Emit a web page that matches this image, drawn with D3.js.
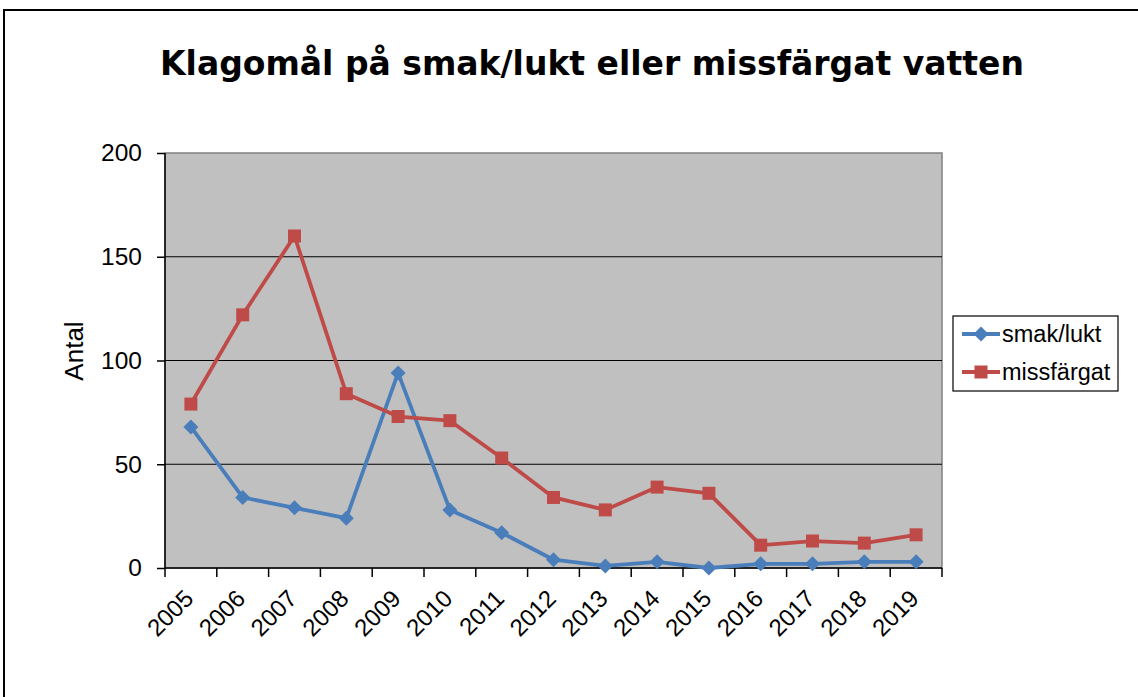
<!DOCTYPE html>
<html>
<head>
<meta charset="utf-8">
<script src="https://cdn.jsdelivr.net/npm/d3@7"></script>
<style>
  body { margin: 0; background: #fff; }
  svg { display: block; }
  .axis text { font-family: "Liberation Sans", Arial, sans-serif; font-size: 24.5px; fill: #000; }
  .axis .xl { font-size: 24px; }
  .axis path, .axis line { stroke: #000; stroke-width: 1.5; }
</style>
</head>
<body>
<div id="chart"></div>
<script>
const years = ['2005','2006','2007','2008','2009','2010','2011','2012','2013','2014','2015','2016','2017','2018','2019'];
const smakLukt = [68, 34, 29, 24, 94, 28, 17, 4, 1, 3, 0, 2, 2, 3, 3];
const missfargat = [79, 122, 160, 84, 73, 71, 53, 34, 28, 39, 36, 11, 13, 12, 16];
const yTicks = [0, 50, 100, 150, 200];

const seriesList = [
  { name: 'smak/lukt', values: smakLukt, color: '#4a7ebb', marker: 'diamond' },
  { name: 'missfärgat', values: missfargat, color: '#be4b48', marker: 'square' }
];

const width = 1138, height = 697;
const margin = { top: 153, left: 165, right: 196, bottom: 129 };
const innerW = width - margin.left - margin.right;
const innerH = height - margin.top - margin.bottom;

const svg = d3.select('#chart').append('svg')
  .attr('width', width)
  .attr('height', height);

// outer frame
svg.append('rect')
  .attr('x', 4).attr('y', 10)
  .attr('width', width + 10).attr('height', height + 10)
  .attr('fill', 'none')
  .attr('stroke', '#000')
  .attr('stroke-width', 2);

// title
svg.append('text')
  .attr('x', 592)
  .attr('y', 75)
  .attr('text-anchor', 'middle')
  .attr('font-family', '"DejaVu Sans", Verdana, sans-serif')
  .attr('font-weight', 'bold')
  .attr('font-size', 33)
  .text('Klagomål på smak/lukt eller missfärgat vatten');

const g = svg.append('g')
  .attr('transform', `translate(${margin.left},${margin.top})`);

const x = d3.scaleBand().domain(years).range([0, innerW]);
const y = d3.scaleLinear().domain([0, 200]).range([innerH, 0]);

// plot background
g.append('rect')
  .attr('width', innerW).attr('height', innerH)
  .attr('fill', '#c0c0c0')
  .attr('stroke', '#808080')
  .attr('stroke-width', 1.5);

// gridlines
g.selectAll('.grid')
  .data(yTicks.filter(d => d > 0 && d < 200))
  .join('line')
  .attr('class', 'grid')
  .attr('x1', 0).attr('x2', innerW)
  .attr('y1', d => y(d)).attr('y2', d => y(d))
  .attr('stroke', '#000')
  .attr('stroke-width', 1.2);

// y axis
const yAxisG = g.append('g')
  .attr('class', 'axis')
  .call(d3.axisLeft(y).tickValues(yTicks).tickSize(8).tickPadding(15));
yAxisG.select('.domain').attr('d', `M0,${innerH}V0`);

// x axis with ticks at category boundaries
const xAxisG = g.append('g')
  .attr('class', 'axis')
  .attr('transform', `translate(0,${innerH})`);
xAxisG.append('line')
  .attr('x1', 0).attr('x2', innerW)
  .attr('stroke', '#000').attr('stroke-width', 1.5);
xAxisG.selectAll('.bt')
  .data(d3.range(years.length + 1))
  .join('line')
  .attr('class', 'bt')
  .attr('x1', i => i * x.bandwidth()).attr('x2', i => i * x.bandwidth())
  .attr('y1', 0).attr('y2', 9)
  .attr('stroke', '#000').attr('stroke-width', 1.5);
xAxisG.selectAll('.xl')
  .data(years)
  .join('text')
  .attr('class', 'xl')
  .attr('text-anchor', 'end')
  .attr('transform', d => `translate(${x(d) + x.bandwidth() / 2 + 4},${32}) rotate(-45)`)
  .text(d => d);

// y axis title
svg.append('text')
  .attr('transform', `translate(83,${351}) rotate(-90)`)
  .attr('text-anchor', 'middle')
  .attr('font-family', '"Liberation Sans", Arial, sans-serif')
  .attr('font-size', 26)
  .text('Antal');

const line = d3.line()
  .x((d, i) => x(years[i]) + x.bandwidth() / 2)
  .y(d => y(d));

const markerPath = (type) => type === 'diamond'
  ? 'M0,-7.5L7.5,0L0,7.5L-7.5,0Z'
  : 'M-6.5,-6.5H6.5V6.5H-6.5Z';

seriesList.forEach(s => {
  g.append('path')
    .datum(s.values)
    .attr('d', line)
    .attr('fill', 'none')
    .attr('stroke', s.color)
    .attr('stroke-width', 3.8)
    .attr('stroke-linejoin', 'round');
  g.selectAll(null)
    .data(s.values)
    .join('path')
    .attr('transform', (d, i) => `translate(${x(years[i]) + x.bandwidth() / 2},${y(d)})`)
    .attr('d', markerPath(s.marker))
    .attr('fill', s.color);
});

// legend
const legend = svg.append('g').attr('transform', 'translate(953,316)');
legend.append('rect')
  .attr('width', 165).attr('height', 75)
  .attr('fill', '#fff')
  .attr('stroke', '#000')
  .attr('stroke-width', 1.2);
seriesList.forEach((s, i) => {
  const row = legend.append('g').attr('transform', `translate(0,${18 + i * 38})`);
  row.append('line')
    .attr('x1', 9).attr('x2', 47)
    .attr('stroke', s.color).attr('stroke-width', 3.8);
  row.append('path')
    .attr('transform', 'translate(28,0)')
    .attr('d', markerPath(s.marker))
    .attr('fill', s.color);
  row.append('text')
    .attr('x', 49)
    .attr('dy', '0.35em')
    .attr('font-family', '"Liberation Sans", Arial, sans-serif')
    .attr('font-size', 23.5)
    .text(s.name);
});
</script>
</body>
</html>
